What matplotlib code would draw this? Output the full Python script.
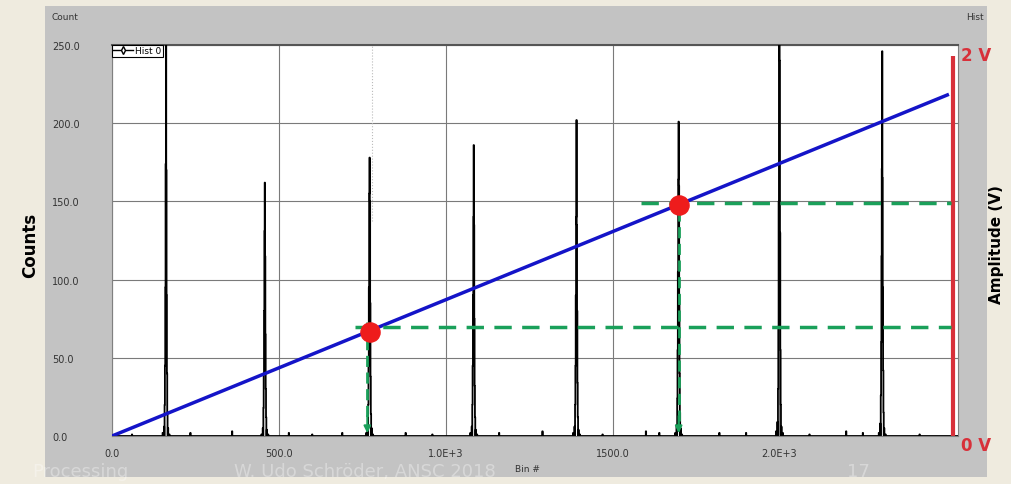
import numpy as np
import matplotlib.pyplot as plt
import matplotlib.patches as patches
from matplotlib.lines import Line2D

# histogram peaks (bin number, counts profile around the centre)
peak_centers = [162, 458, 772, 1084, 1392, 1698, 2000, 2308]
peak_offsets = [-15, -10, -6, -4, -3, -2, -1, 0, 1, 2, 3, 4, 6, 10, 15]
peak_counts = [
    [0, 2, 6, 20, 45, 95, 174, 262, 170, 90, 40, 15, 5, 1, 0],
    [0, 1, 5, 18, 40, 80, 131, 162, 115, 65, 30, 12, 4, 1, 0],
    [0, 2, 6, 20, 45, 95, 155, 178, 150, 85, 38, 14, 5, 1, 0],
    [0, 2, 6, 20, 45, 90, 140, 186, 135, 75, 32, 12, 4, 1, 0],
    [0, 2, 6, 20, 45, 90, 140, 202, 135, 80, 34, 12, 4, 1, 0],
    [0, 2, 7, 24, 55, 105, 164, 201, 160, 90, 40, 15, 5, 1, 0],
    [0, 3, 9, 30, 70, 150, 250, 262, 240, 130, 55, 20, 6, 2, 0],
    [0, 2, 8, 26, 60, 115, 171, 246, 165, 95, 42, 15, 5, 1, 0],
]
noise_bins = [60, 235, 360, 530, 600, 690, 880, 960, 1160, 1290, 1470, 1600, 1640, 1820, 1900, 2090, 2200, 2250, 2420]
noise_counts = [1, 2, 3, 2, 1, 2, 2, 1, 2, 3, 1, 3, 2, 2, 2, 1, 3, 2, 1]
n_bins = 2535

# amplitude ramp (right axis, volts)
ramp_bins = [0, 2503]
ramp_volts = [0.0, 1.795]
dot_bins = [772, 1698]
dot_volts = [0.55, 1.215]
level_volts = [0.575, 1.225]
level_start = [727, 1585]
level_end = 2515
drop_bins = [765, 1698]
drop_top = [0.60, 1.19]

x_ticks = [0, 500, 1000, 1500, 2000]
x_labels = ["0.0", "500.0", "1.0E+3", "1500.0", "2.0E+3"]
y_ticks = [0, 50, 100, 150, 200, 250]
y_labels = ["0.0", "50.0", "100.0", "150.0", "200.0", "250.0"]

bins = np.arange(n_bins)
counts = np.zeros(n_bins)
for c, prof in zip(peak_centers, peak_counts):
    for o, v in zip(peak_offsets, prof):
        counts[c + o] = v
for b, v in zip(noise_bins, noise_counts):
    counts[b] = v

fig = plt.figure(figsize=(10.12, 4.85), dpi=100)
fig.patch.set_facecolor("#efebdf")
# gray panel behind the plot
fig.patches.append(patches.Rectangle((45 / 1012, 1 - 478 / 485), 942 / 1012, 471 / 485,
                                     transform=fig.transFigure, facecolor="#c3c3c3",
                                     edgecolor="none", zorder=-5))

ax = fig.add_axes([112 / 1012, 1 - 437 / 485, 846 / 1012, 391 / 485])
ax.set_facecolor("white")
ax.plot(bins, counts, color="black", lw=1.3, drawstyle="steps-mid", zorder=3)
ax.set_xlim(0, n_bins)
ax.set_ylim(0, 250)
ax.set_xticks(x_ticks)
ax.set_xticklabels(x_labels)
ax.set_yticks(y_ticks)
ax.set_yticklabels(y_labels)
ax.grid(True, color="#7a7a7a", lw=0.8)
ax.tick_params(length=0, labelsize=7, colors="#333333")
ax.tick_params(axis="x", pad=9)
ax.tick_params(axis="y", pad=43)
for lab in ax.get_yticklabels():
    lab.set_horizontalalignment("left")
for s in ax.spines.values():
    s.set_color("#808080")
ax.spines["top"].set_color("#555555")
ax.spines["top"].set_linewidth(1.5)
ax.axvline(780, ymin=0.55, ymax=1, color="#bbbbbb", lw=0.8, ls=":")

handle = Line2D([], [], color="black", lw=1, marker="d", markersize=4,
                markerfacecolor="white", markeredgecolor="black")
leg = ax.legend([handle], ["Hist 0"], loc="upper left", fontsize=6.5, borderaxespad=0,
                handlelength=2.2, handletextpad=0.2, borderpad=0.15, fancybox=False,
                framealpha=1, edgecolor="black")
leg.get_frame().set_linewidth(0.8)
leg.set_zorder(10)

ax2 = ax.twinx()
ax2.set_ylim(0, 2 * 391 / 380)
ax2.set_yticks([])
for s in ax2.spines.values():
    s.set_visible(False)
ax2.plot(ramp_bins, ramp_volts, color="#1414c8", lw=2.5, zorder=4)
ax2.plot([2521, 2521], [0, 2], color="#d8303a", lw=3, solid_capstyle="butt", zorder=4)
for x0, lv in zip(level_start, level_volts):
    ax2.plot([x0, level_end], [lv, lv], color="#1aa05a", lw=2.5, ls=(0, (5, 3)), zorder=5)
for xb, top in zip(drop_bins, drop_top):
    ax2.plot([xb, xb], [top, 0.08], color="#1aa05a", lw=2, ls=(0, (4, 2)), zorder=5)
    ax2.annotate("", xy=(xb, 0.0), xytext=(xb, 0.12),
                 arrowprops=dict(arrowstyle="-|>", color="#1aa05a", lw=1.5,
                                 mutation_scale=10), zorder=5)
ax2.scatter(dot_bins, dot_volts, s=190, color="#ee1c1c", zorder=6)

fig.text(52 / 1012, 1 - 18 / 485, "Count", fontsize=6.5, color="#333333", va="center")
fig.text(984 / 1012, 1 - 18 / 485, "Hist", fontsize=6.5, color="#333333", va="center", ha="right")
fig.text(527 / 1012, 1 - 470 / 485, "Bin #", fontsize=6.5, color="#333333", ha="center", va="center")
fig.text(30 / 1012, 1 - 245 / 485, "Counts", fontsize=12, fontweight="bold", rotation=90,
         ha="center", va="center")
fig.text(997 / 1012, 1 - 245 / 485, "Amplitude (V)", fontsize=11, fontweight="bold",
         rotation=90, ha="center", va="center")
fig.text(976 / 1012, 1 - 56 / 485, "2 V", fontsize=12, fontweight="bold", color="#d8303a",
         ha="center", va="center")
fig.text(976 / 1012, 1 - 446 / 485, "0 V", fontsize=12, fontweight="bold", color="#d8303a",
         ha="center", va="center")

# faint watermark footer
for xpos, txt in [(80, "Processing"), (365, "W. Udo Schröder, ANSC 2018"), (858, "17")]:
    fig.text(xpos / 1012, 1 - 472 / 485, txt, fontsize=13, color="white", alpha=0.35,
             ha="center", va="center")

plt.savefig("out.png", dpi=100)
plt.close()
